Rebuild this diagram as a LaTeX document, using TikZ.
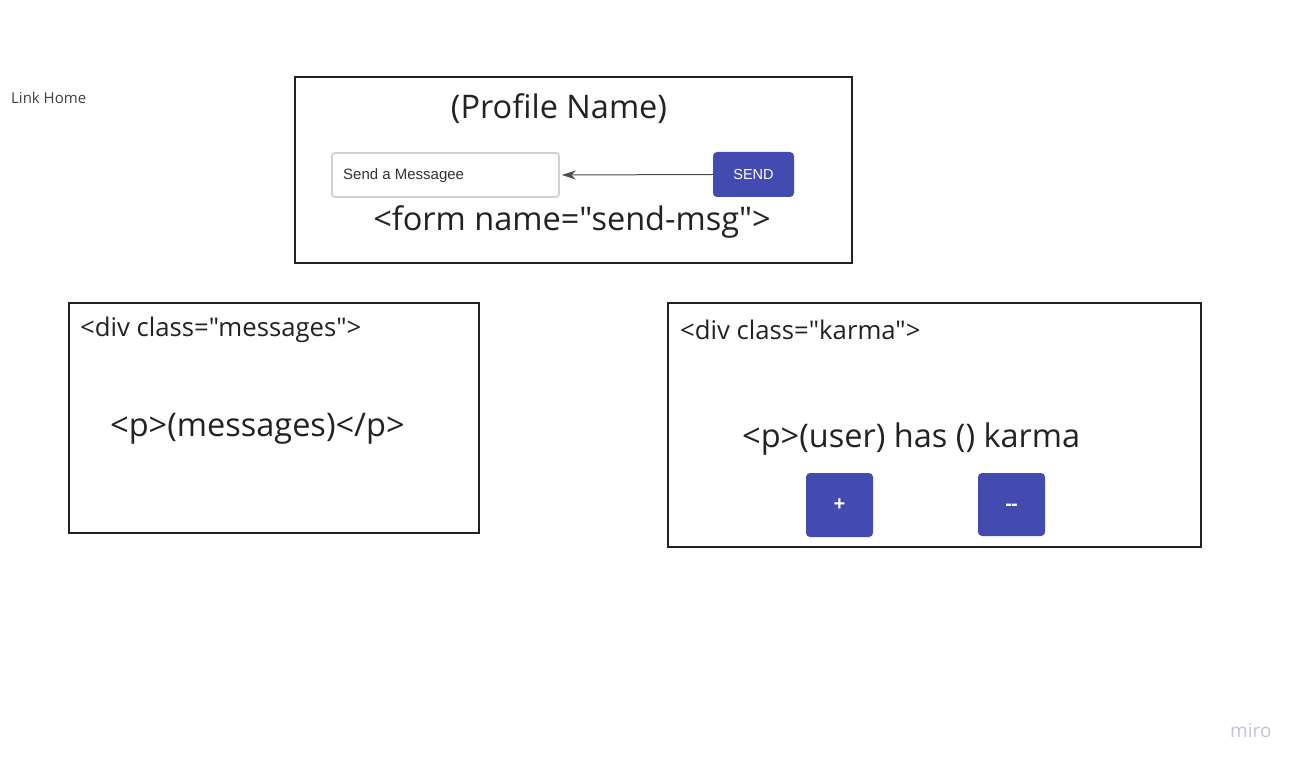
\documentclass[tikz,border=0pt]{standalone}
\usepackage{fontspec}
\setmainfont{Open Sans}[Ligatures=TeXOff]
\newfontfamily\arialfont{Liberation Sans}[Ligatures=TeXOff]
\usetikzlibrary{arrows.meta}
\definecolor{btnblue}{HTML}{434BB0}
\definecolor{framec}{HTML}{222222}
\definecolor{txtc}{HTML}{222222}
\definecolor{miroc}{HTML}{C4C4D2}
\begin{document}
\begin{tikzpicture}[x=1pt,y=-1pt,
  frame/.style={draw=framec,line width=1.8pt},
  big/.style={font=\fontsize{32.5}{38}\selectfont,text=txtc,inner sep=0pt},
  mid/.style={font=\fontsize{25.7}{30}\selectfont,text=txtc,inner sep=0pt},
  btn/.style={fill=btnblue,rounded corners=4pt,text=white,inner sep=0pt},
  btntxt/.style={text=white,inner sep=0pt,font=\arialfont\bfseries\fontsize{20}{22}\selectfont},
]
\useasboundingbox[fill=white] (0,0) rectangle (1302,767);
% Link home
\node[anchor=west,inner sep=0pt,text=black!75,font=\fontsize{15}{17}\selectfont] (home) at (11,98) {Link Home};
% form box
\draw[frame] (295,77) rectangle (852,263);
\node[big] (pname) at (559,109) {(Profile Name)};
\node[draw=black!18,line width=1.8pt,rounded corners=3pt,minimum width=227pt,minimum height=44pt,inner sep=0pt] (input) at (445.5,175) {};
\node[anchor=west,inner sep=0pt,font=\arialfont\fontsize{15}{17}\selectfont,text=black!80] (inputtxt) at (343,175.5) {Send a Messagee};
\node[btn,minimum width=81pt,minimum height=45pt,font=\arialfont\fontsize{14.5}{17}\selectfont] (send) at (753.5,174.5) {SEND};
\draw[black!70,line width=1pt,-{Stealth[length=14pt,width=9pt]}] (send.west) -- ([xshift=2pt]input.east);
\node[big] (form) at (572,222) {<form name="send-msg">};
% messages box
\draw[frame] (69,303) rectangle (479,533);
\node[mid,anchor=west] (divm) at (80,330) {<div class="messages">};
\node[big,anchor=west] (pm) at (110,429) {<p>(messages)</p>};
% karma box
\draw[frame] (668,303) rectangle (1201,547);
\node[mid,anchor=west] (divk) at (680,330) {<div class="karma">};
\node[big,anchor=west] (pk) at (742,439) {<p>(user) has () karma};
\node[btn,minimum width=67pt,minimum height=64pt] (plus) at (839.5,505) {};
\node[btntxt] (plust) at (839.5,505) {+};
\node[btn,minimum width=67pt,minimum height=63pt] (minus) at (1011.5,504.5) {};
\node[btntxt,yshift=-2.5pt] (minust) at (minus.center) {-\kern-1pt-};
% miro
\node[anchor=west,inner sep=0pt,text=miroc,font=\fontsize{19}{21}\selectfont] (miro) at (1230,731) {miro};
\end{tikzpicture}
\end{document}
